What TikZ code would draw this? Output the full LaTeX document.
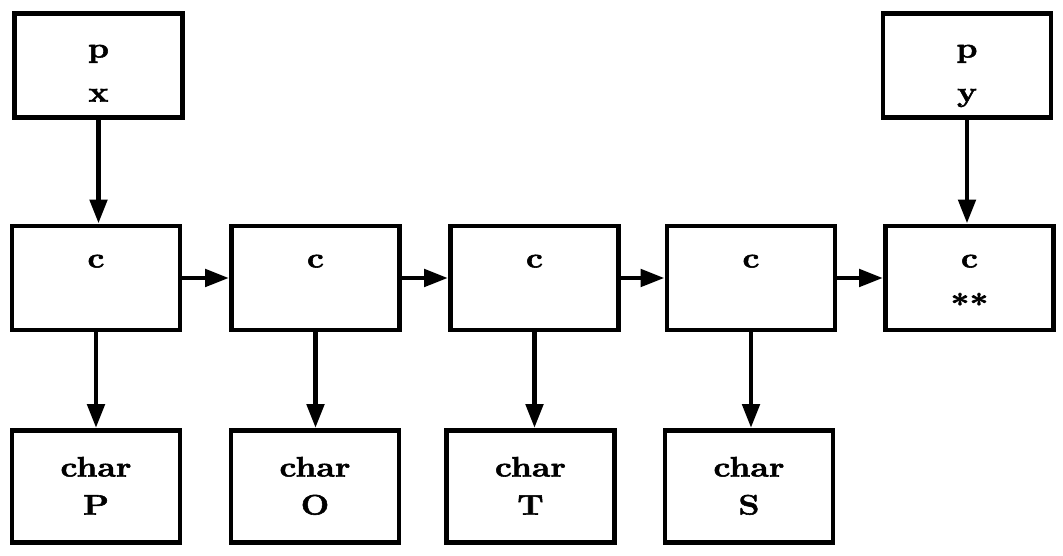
\documentclass[tikz,border=0pt]{standalone}
\usepackage{fontspec}
\usepackage{tikz}
\usetikzlibrary{arrows.meta}
\newfontfamily\cellfont{Latin Modern Roman}[FakeStretch=1.2, BoldFeatures={FakeBold=2}]

\begin{document}
\begin{tikzpicture}[
    every node/.style={font=\cellfont\bfseries\fontsize{16}{19}\selectfont},
    cell/.style={draw, line width=2.8pt, minimum width=3.36cm, minimum height=2.08cm},
    tall/.style={cell, minimum height=2.24cm},
    txt/.style={inner sep=0pt, anchor=base},
    link/.style={-{Triangle[length=4.8mm, width=3.4mm]}, line width=2.8pt}]
  \useasboundingbox (0, 0) rectangle (21.26, 11.12);

  % Pointer cells
  \node[cell] (px) at (1.97, 9.81) {};
  \node[txt] (px-name) at ([yshift=0.16cm]px.center) {p};
  \node[txt] (px-var)  at ([yshift=-0.72cm]px.center) {x};
  \node[cell] (py) at (19.34, 9.81) {};
  \node[txt] (py-name) at ([yshift=0.16cm]py.center) {p};
  \node[txt] (py-var)  at ([yshift=-0.72cm]py.center) {y};

  % List cells
  \node[cell] (c1) at (1.92, 5.56) {};
  \node[cell] (c2) at (6.31, 5.56) {};
  \node[cell] (c3) at (10.69, 5.56) {};
  \node[cell] (c4) at (15.02, 5.56) {};
  \node[cell] (c5) at (19.39, 5.56) {};
  \foreach \c in {c1, c2, c3, c4, c5}
    \node[txt] (\c-tag) at ([yshift=0.21cm]\c.center) {c};
  \node[txt] (c5-end) at ([yshift=-0.72cm]c5.center) {**};

  % Character cells
  \node[tall] (chP) at (1.92, 1.39) {};
  \node[tall] (chO) at (6.30, 1.39) {};
  \node[tall] (chT) at (10.61, 1.39) {};
  \node[tall] (chS) at (14.98, 1.39) {};
  \foreach \ch/\l in {chP/P, chO/O, chT/T, chS/S} {
    \node[txt] (\ch-type) at ([yshift=0.2cm]\ch.center) {char};
    \node[txt] (\ch-val)  at ([yshift=-0.56cm]\ch.center) {\l};
  }

  % Pointers into the list
  \draw[link] (px.south) -- (c1.north -| px.south);
  \draw[link] (py.south) -- (c5.north -| py.south);

  % Next links
  \draw[link] (c1) -- (c2);
  \draw[link] (c2) -- (c3);
  \draw[link] (c3) -- (c4);
  \draw[link] (c4) -- (c5);

  % Value links
  \draw[link] (c1.south) -- (chP.north -| c1.south);
  \draw[link] (c2.south) -- (chO.north -| c2.south);
  \draw[link] (c3.south) -- (chT.north -| c3.south);
  \draw[link] (c4.south) -- (chS.north -| c4.south);
\end{tikzpicture}
\end{document}
